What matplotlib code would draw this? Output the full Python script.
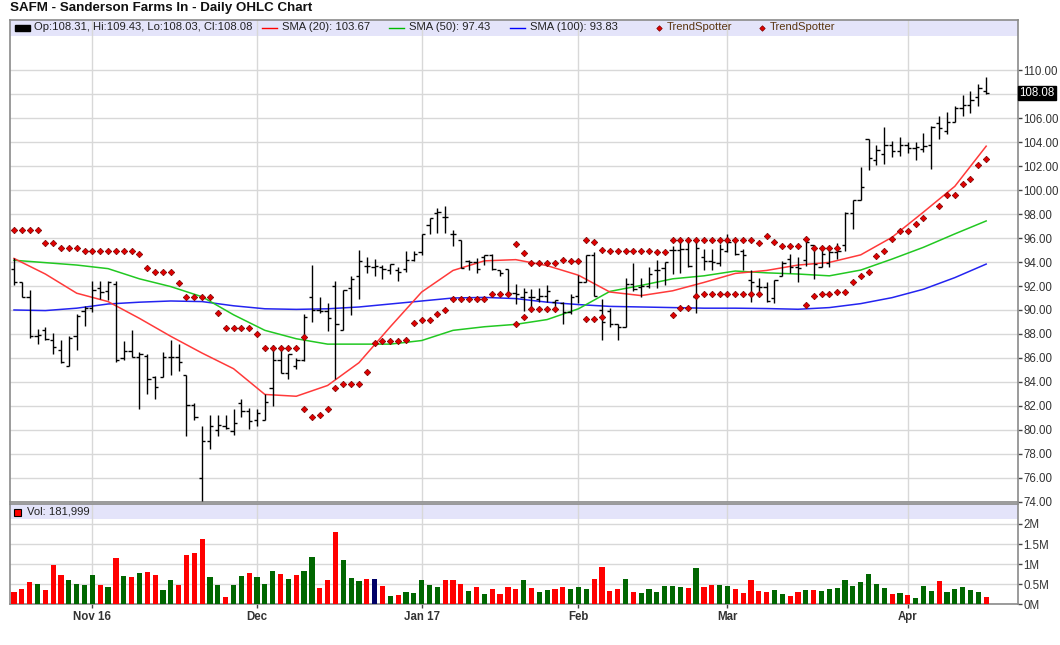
import numpy as np
import matplotlib
matplotlib.use("Agg")
import matplotlib.pyplot as plt
from matplotlib.patches import Rectangle
from matplotlib.lines import Line2D
import matplotlib.transforms as mtransforms

plt.rcParams['font.family'] = ['Liberation Sans', 'DejaVu Sans']

# ---- data (one bar per trading day, index 0 = mid Oct 2016) ----
open_ = [93.4, 92.3, 91.1, 87.8, 88.3, 87.5, 86.7, 85.35, 87.8, 89.9,
         90.2, 91.8, 91.6, 92.2, 86.0, 86.6, 86.1, 86.2, 84.4, 84.4,
         86.1, 86.1, 84.6, 82.1, 76.0, 79.1, 80.0, 80.3, 79.9, 82.2,
         81.6, 80.8, 80.8, 83.5, 85.85, 84.7, 85.3, 85.8, 91.05, 90.0,
         89.9, 92.0, 88.35, 91.8, 92.85, 93.65, 93.55, 93.55, 93.35, 93.35,
         93.4, 94.2, 94.8, 97.1, 98.1, 97.8, 96.3, 95.8, 94.05, 94.0,
         94.45, 94.6, 93.3, 93.4, 91.4, 91.05, 91.05, 90.9, 91.2, 90.7,
         90.6, 89.8, 91.2, 92.3, 94.55, 90.0, 89.9, 88.8, 88.6, 92.2,
         91.95, 92.0, 93.3, 93.5, 95.0, 95.0, 95.1, 91.1, 94.4, 94.1,
         93.9, 94.9, 95.85, 94.9, 92.5, 92.0, 91.9, 91.0, 92.85, 94.25,
         93.55, 94.2, 95.4, 93.6, 93.95, 94.85, 95.4, 98.1, 99.2, 104.3,
         102.5, 103.05, 103.75, 103.3, 103.75, 103.5, 103.4, 103.8, 105.6, 104.95,
         105.7, 106.85, 107.1, 107.8, 108.31]
high = [94.33, 92.35, 91.7, 88.4, 88.55, 88.1, 87.5, 87.8, 89.7, 90.3,
        92.4, 92.4, 92.4, 92.4, 87.4, 88.3, 86.5, 86.3, 84.5, 86.5,
        87.5, 87.2, 84.6, 82.2, 80.3, 81.2, 81.2, 81.2, 81.7, 82.55,
        81.8, 81.7, 83.0, 87.05, 86.9, 86.35, 86.0, 89.65, 93.75, 91.1,
        90.55, 92.45, 91.7, 92.8, 95.0, 94.45, 94.25, 93.75, 93.85, 93.55,
        94.95, 94.95, 96.35, 97.65, 98.5, 98.7, 96.7, 95.8, 94.2, 94.3,
        94.6, 94.7, 93.35, 93.4, 92.15, 91.85, 91.75, 91.85, 92.05, 90.85,
        90.7, 91.35, 92.95, 94.55, 94.85, 90.9, 90.2, 88.8, 92.7, 93.9,
        92.7, 93.6, 94.2, 94.0, 95.3, 95.85, 95.85, 95.85, 95.1, 95.1,
        95.5, 96.35, 95.85, 95.1, 93.35, 92.7, 92.3, 92.5, 94.1, 94.7,
        94.4, 95.9, 95.4, 95.1, 95.3, 95.55, 98.15, 99.2, 101.95, 104.3,
        103.75, 105.3, 104.1, 104.4, 104.05, 104.05, 104.8, 105.35, 106.15, 106.5,
        107.0, 107.9, 108.3, 108.9, 109.43]
low = [92.1, 91.1, 87.65, 87.2, 87.5, 86.3, 85.6, 85.3, 86.7, 88.7,
       89.8, 90.9, 90.8, 85.7, 85.8, 86.1, 81.7, 83.0, 82.6, 84.4,
       84.6, 84.9, 79.5, 80.8, 74.05, 78.4, 79.5, 80.05, 79.6, 81.1,
       80.1, 80.3, 80.8, 82.0, 84.7, 84.25, 85.1, 85.75, 89.0, 89.75,
       88.25, 84.2, 88.35, 89.55, 90.95, 93.05, 92.85, 92.6, 93.0, 92.45,
       93.2, 94.05, 94.6, 96.35, 96.4, 96.4, 95.3, 93.5, 93.35, 93.1,
       93.75, 93.35, 92.85, 91.4, 90.5, 89.95, 90.1, 90.7, 90.7, 90.3,
       88.8, 89.65, 90.55, 92.3, 91.2, 87.5, 88.6, 87.5, 88.6, 91.6,
       91.05, 91.8, 91.85, 92.1, 93.0, 93.05, 93.6, 89.75, 93.3, 93.3,
       93.7, 94.8, 94.6, 93.3, 90.7, 91.6, 90.7, 90.6, 92.85, 93.1,
       92.3, 93.7, 92.6, 93.55, 93.55, 94.25, 94.9, 96.75, 99.2, 101.65,
       102.1, 102.2, 102.8, 102.85, 103.1, 102.5, 103.2, 101.8, 104.3, 104.7,
       105.7, 106.2, 106.45, 107.05, 108.03]
close = [92.3, 91.1, 87.8, 87.9, 87.6, 86.95, 85.7, 87.7, 89.5, 90.2,
         91.7, 91.5, 92.3, 85.8, 86.6, 86.1, 86.3, 84.2, 83.6, 86.05,
         86.1, 85.7, 82.1, 81.1, 79.1, 80.3, 80.4, 80.15, 80.6, 81.6,
         80.7, 81.4, 82.3, 85.85, 84.7, 86.3, 85.8, 89.4, 90.0, 89.9,
         89.35, 88.8, 91.65, 92.6, 94.05, 93.65, 93.65, 93.4, 93.8, 93.2,
         94.2, 94.65, 96.35, 97.65, 98.15, 97.8, 96.3, 93.5, 94.0, 93.4,
         94.6, 93.4, 93.05, 91.4, 91.35, 91.5, 91.05, 91.2, 91.6, 90.8,
         89.8, 91.05, 92.3, 94.55, 91.2, 89.0, 88.8, 88.6, 92.2, 91.75,
         92.0, 93.0, 93.35, 94.0, 95.0, 95.1, 93.65, 95.2, 94.1, 94.0,
         95.1, 95.7, 94.7, 94.6, 92.3, 91.95, 90.75, 92.5, 93.95, 93.55,
         93.5, 95.65, 93.85, 94.7, 94.8, 94.95, 98.1, 99.15, 100.3, 102.7,
         103.35, 103.75, 103.3, 103.75, 103.55, 103.6, 103.65, 105.3, 105.15, 105.7,
         106.85, 107.1, 107.55, 108.5, 108.08]

# volume in millions of shares, and bar colour code (R down, G up, N unchanged)
volume = [0.31, 0.38, 0.56, 0.51, 0.36, 0.98, 0.73, 0.61, 0.51, 0.48,
          0.73, 0.48, 0.43, 1.16, 0.71, 0.68, 0.78, 0.81, 0.73, 0.36,
          0.61, 0.48, 1.23, 1.28, 1.63, 0.68, 0.48, 0.18, 0.48, 0.71,
          0.78, 0.68, 0.51, 0.83, 0.76, 0.63, 0.73, 0.83, 1.18, 0.41,
          0.61, 1.81, 1.11, 0.66, 0.58, 0.63, 0.63, 0.46, 0.21, 0.23,
          0.31, 0.28, 0.61, 0.48, 0.43, 0.61, 0.61, 0.51, 0.33, 0.43,
          0.26, 0.38, 0.26, 0.43, 0.38, 0.61, 0.41, 0.31, 0.36, 0.38,
          0.43, 0.38, 0.43, 0.38, 0.63, 0.93, 0.33, 0.38, 0.63, 0.31,
          0.28, 0.38, 0.31, 0.46, 0.46, 0.43, 0.41, 0.91, 0.43, 0.48,
          0.48, 0.46, 0.38, 0.28, 0.61, 0.33, 0.31, 0.36, 0.26, 0.21,
          0.31, 0.36, 0.36, 0.33, 0.38, 0.41, 0.61, 0.46, 0.56, 0.76,
          0.51, 0.41, 0.26, 0.28, 0.23, 0.16, 0.46, 0.33, 0.58, 0.31,
          0.38, 0.43, 0.36, 0.31, 0.18]
vol_dir = ("RRRGRRRGGG" "GRGRGRGRRG" "GRRRRGGRGG" "RGGGRGRGGR" "RRGGGRNRGR"
           "GGGGGRRRGR" "GRRRRGRGGR" "RGGGRRRRGR" "GGGGGGRGRR" "GGRRRRRGGR"
           "RGRGGGGGGG" "GGRGRGGGRG" "GGGGR")

# TrendSpotter stops (two series, None = no marker that day)
ts_a = [96.65, 96.65, 96.65, 96.65, 95.6, 95.6, 95.15, 95.15, 95.15, 94.95,
        94.95, 94.95, 94.95, 94.95, 94.95, 94.95, 94.65, 93.5, 93.15, 93.15,
        93.15, 92.25, 91.1, 91.1, 91.1, 91.1, 89.75, 88.5, 88.5, 88.5,
        88.5, 88.0, 86.85, 86.85, 86.85, 86.85, 86.85, 87.75, None, None,
        None, None, None, None, None, None, None, None, None, None,
        None, None, None, None, None, None, None, None, None, None,
        None, None, None, None, 95.5, 94.75, 93.95, 93.95, 93.95, 93.95,
        94.2, 94.05, 94.05, 95.85, 95.65, 95.0, 94.9, 94.9, 94.9, 94.9,
        94.9, 94.9, 94.8, 94.8, 95.85, 95.85, 95.85, 95.85, 95.85, 95.85,
        95.85, 95.85, 95.85, 95.85, 95.85, 95.55, 96.15, 95.65, 95.37, 95.37,
        95.37, 95.93, 95.17, 95.17, 95.17, 95.17, None, None, None, None,
        None, None, None, None, None, None, None, None, None, None,
        None, None, None, None, None]
ts_b = [None, None, None, None, None, None, None, None, None, None,
        None, None, None, None, None, None, None, None, None, None,
        None, None, None, None, None, None, None, None, None, None,
        None, None, None, None, None, None, None, 81.75, 81.05, 81.25,
        81.75, 83.5, 83.85, 83.85, 83.85, 84.8, 87.25, 87.4, 87.4, 87.4,
        87.5, 88.95, 89.15, 89.15, 89.7, 90.0, 90.95, 90.95, 90.95, 90.95,
        90.95, 91.3, 91.3, 91.3, 88.8, 89.45, 90.1, 90.1, 90.1, 90.1,
        None, None, None, 89.25, 89.25, 89.45, None, None, None, None,
        None, None, None, None, 89.6, 90.15, 90.15, 91.2, 91.35, 91.35,
        91.35, 91.35, 91.35, 91.35, 91.35, 91.35, None, None, None, None,
        None, 90.4, 91.17, 91.3, 91.3, 91.5, 91.5, 92.35, 92.8, 93.2,
        94.5, 94.95, 95.93, 96.63, 96.63, 97.2, 97.7, None, 98.7, 99.57,
        99.62, 100.55, 100.97, 102.06, 102.56]

# moving averages read every 4th bar
sma_idx = [0, 4, 8, 12, 16, 20, 24, 28, 32, 36, 40, 44, 48, 52, 56, 60,
           64, 68, 72, 76, 80, 84, 88, 92, 96, 100, 104, 108, 112, 116, 120, 124]
sma20 = [94.3, 93.0, 91.4, 90.7, 89.3, 87.8, 86.4, 85.1, 82.95, 82.8, 83.7,
         85.6, 88.6, 91.5, 93.3, 94.1, 94.2, 93.7, 92.9, 91.5, 91.2, 91.6,
         92.3, 93.05, 93.3, 93.75, 93.97, 94.6, 96.07, 98.17, 100.32, 103.67]
sma50 = [94.15, 93.95, 93.75, 93.45, 92.6, 91.95, 91.1, 89.6, 88.3, 87.6, 87.15,
         87.15, 87.15, 87.45, 88.3, 88.6, 88.8, 89.2, 90.1, 91.55, 92.05, 92.6,
         92.85, 93.25, 93.1, 93.0, 92.85, 93.33, 94.25, 95.23, 96.35, 97.43]
sma100 = [90.0, 89.95, 90.15, 90.5, 90.65, 90.75, 90.7, 90.35, 90.1, 90.05, 90.1,
          90.25, 90.5, 90.75, 91.0, 91.05, 90.95, 90.65, 90.45, 90.3, 90.25, 90.2,
          90.15, 90.15, 90.12, 90.06, 90.2, 90.53, 91.03, 91.73, 92.7, 93.83]

month_idx = [10, 31, 52, 72, 91, 114]
month_lbl = ["Nov 16", "Dec", "Jan 17", "Feb", "Mar", "Apr"]
price_ticks = [74, 76, 78, 80, 82, 84, 86, 88, 90, 92, 94, 96, 98, 100,
               102, 104, 106, 108, 110]

# ---- layout (pixel based) ----
W, H = 1060, 645
fig = plt.figure(figsize=(W / 100, H / 100), dpi=100)
fig.patch.set_facecolor('white')


def fx(x):
    return x / W


def fy(y):
    return 1 - y / H


ax = fig.add_axes([fx(10), fy(501.7), fx(1008), 481.7 / H])
axv = fig.add_axes([fx(10), fy(604.3), fx(1008), 100 / H])

x = np.arange(len(close))
o = np.array(open_)
h = np.array(high)
l = np.array(low)
c = np.array(close)

grid_col = '#d8d8d8'
spine_col = '#8a8a8a'
tick_col = '#333333'

for a in (ax, axv):
    a.set_xlim(-0.51, 128.06)
    for s in a.spines.values():
        s.set_color(spine_col)
        s.set_linewidth(1.2)
    a.set_xticks(month_idx)
    a.yaxis.tick_right()
    a.tick_params(axis='y', which='both', length=3, width=1, color='#444444',
                  labelsize=8.3, labelcolor=tick_col, pad=1)
    a.grid(True, color=grid_col, linewidth=1)
    a.set_axisbelow(True)

# price panel; the 108 label sits under the last-price box, so it is left blank
ax.set_ylim(74, 114.2)
ax.set_yticks(price_ticks)
ax.set_yticklabels(["" if v == 108 else "%.2f" % v for v in price_ticks])
ax.tick_params(axis='x', length=0, labelbottom=False)

ax.add_patch(Rectangle((0, 1 - 15.5 / 481.7), 1, 15.5 / 481.7, transform=ax.transAxes,
                       facecolor='#e4e4fa', edgecolor='none', zorder=0.5))

ax.vlines(x, l, h, color='black', linewidth=1.0, zorder=3)
ax.hlines(o, x - 0.42, x, color='black', linewidth=1.0, zorder=3)
ax.hlines(c, x, x + 0.42, color='black', linewidth=1.0, zorder=3)

ax.plot(sma_idx, sma100, color='#2424f0', linewidth=1.1, zorder=2.6)
ax.plot(sma_idx, sma50, color='#22c822', linewidth=1.1, zorder=2.6)
ax.plot(sma_idx, sma20, color='#ff3a3a', linewidth=1.1, zorder=2.6)

tsa = np.array(ts_a, dtype=float)
tsb = np.array(ts_b, dtype=float)
for ts in (tsa, tsb):
    ax.plot(x, ts, linestyle='none', marker='D', markersize=3.3,
            markerfacecolor='#e00000', markeredgecolor='#7a0000',
            markeredgewidth=0.5, zorder=4)

# last price box
trans = mtransforms.blended_transform_factory(ax.transAxes, ax.transData)
ax.text(1.0015, close[-1], "%.2f" % close[-1], transform=trans, ha='left', va='center',
        fontsize=8.3, color='white', zorder=10, clip_on=False,
        bbox=dict(boxstyle='square,pad=0.1', facecolor='black', edgecolor='black'))

# volume panel
vol_col = {'R': '#ff0000', 'G': '#006600', 'N': '#000066'}
axv.set_ylim(0, 2.49)
axv.bar(x, volume, width=0.66, color=[vol_col[d] for d in vol_dir], zorder=3)
axv.set_yticks([0, 0.5, 1, 1.5, 2])
axv.set_yticklabels(["0M", "0.5M", "1M", "1.5M", "2M"])
axv.set_xticklabels(month_lbl, fontweight='bold', fontsize=8.3, color=tick_col)
axv.tick_params(axis='x', length=3, width=1, color='#444444', pad=1.5)
axv.add_patch(Rectangle((0, 1 - 14.7 / 100), 1, 14.7 / 100, transform=axv.transAxes,
                        facecolor='#e4e4fa', edgecolor='none', zorder=0.5))

# ---- title and legends ----
fig.text(fx(10), fy(8.5), "SAFM - Sanderson Farms In - Daily OHLC Chart",
         fontsize=9.6, fontweight='bold', color='#111111', va='center', ha='left')

ly = 27.5
fig.patches.append(Rectangle((fx(15), fy(31)), fx(15), 6.5 / H, transform=fig.transFigure,
                             facecolor='black', edgecolor='black'))
fig.text(fx(34), fy(ly), "Op:108.31, Hi:109.43, Lo:108.03, Cl:108.08",
         fontsize=8.1, color='#222222', va='center')
leg = [(262, '#ff0000', "SMA (20): 103.67"),
       (389, '#00bb00', "SMA (50): 97.43"),
       (510, '#0000ff', "SMA (100): 93.83")]
for x0, col, txt in leg:
    fig.lines.append(Line2D([fx(x0), fx(x0 + 15)], [fy(ly), fy(ly)],
                            transform=fig.transFigure, color=col, linewidth=1))
    fig.text(fx(x0 + 20), fy(ly), txt, fontsize=8.1, color='#222222', va='center')
for x0 in (659, 762):
    fig.lines.append(Line2D([fx(x0)], [fy(ly)], transform=fig.transFigure,
                            marker='D', markersize=2.8, markerfacecolor='#e00000',
                            markeredgecolor='#7a0000', markeredgewidth=0.5))
    fig.text(fx(x0 + 8), fy(ly), "TrendSpotter", fontsize=8.1, color='#5a3510',
             va='center')

fig.patches.append(Rectangle((fx(13.5), fy(516)), fx(7), 7 / H, transform=fig.transFigure,
                             facecolor='#ff0000', edgecolor='black', linewidth=0.8))
fig.text(fx(27), fy(512), "Vol: 181,999", fontsize=8.1, color='#222222', va='center')

fig.savefig("out.png", dpi=100)
